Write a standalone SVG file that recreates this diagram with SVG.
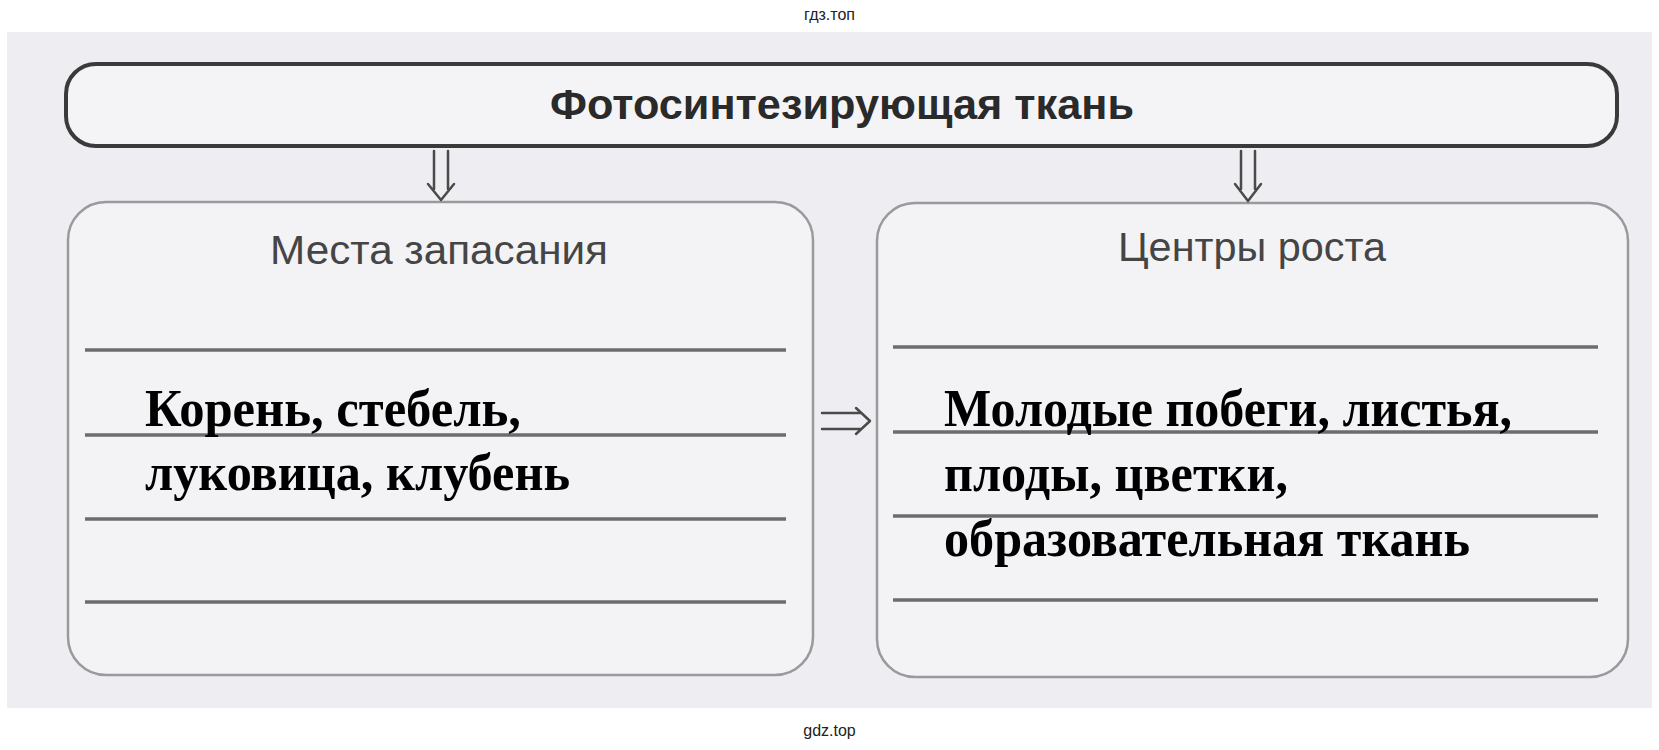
<svg xmlns="http://www.w3.org/2000/svg" width="1659" height="750" viewBox="0 0 1659 750">
<style>
.wm{font-family:"Liberation Sans",Arial,sans-serif;font-size:16px;fill:#222;text-anchor:middle}
.title{font-family:"Liberation Sans",Arial,sans-serif;font-weight:bold;font-size:42px;fill:#2a2a2a}
.head{font-family:"Liberation Sans",Arial,sans-serif;font-size:41px;fill:#454545}
.ans{font-family:"Liberation Serif","Times New Roman",serif;font-weight:bold;font-size:52px;fill:#000}
.box{fill:#f3f3f6;stroke:#9a9a9c;stroke-width:2.5}
.rule{stroke:#6c6c6e;stroke-width:3.5;fill:none}
.arr{stroke:#4a4a4a;stroke-width:2.5;fill:none;stroke-linecap:round;stroke-linejoin:round}
</style>
<rect x="0" y="0" width="1659" height="750" fill="#ffffff"/>
<rect x="7" y="32" width="1645" height="676" fill="#eeeef2"/>
<text class="wm" x="829.5" y="20">гдз.топ</text>
<text class="wm" x="829.5" y="736">gdz.top</text>

<g id="node-top">
<rect x="66" y="64" width="1551" height="82" rx="30" fill="#f4f4f7" stroke="#3a3a3a" stroke-width="4"/>
<text class="title" x="550" y="119" textLength="584" lengthAdjust="spacingAndGlyphs">Фотосинтезирующая ткань</text>
</g>

<g id="node-left">
<rect class="box" x="68" y="202" width="745" height="473" rx="38"/>
<text class="head" x="270" y="264" textLength="338" lengthAdjust="spacingAndGlyphs">Места запасания</text>
<line class="rule" x1="85" y1="350" x2="786" y2="350"/>
<line class="rule" x1="85" y1="435" x2="786" y2="435"/>
<line class="rule" x1="85" y1="519" x2="786" y2="519"/>
<line class="rule" x1="85" y1="602" x2="786" y2="602"/>
<text class="ans" x="145" y="426" textLength="376" lengthAdjust="spacingAndGlyphs">Корень, стебель,</text>
<text class="ans" x="145" y="490" textLength="425" lengthAdjust="spacingAndGlyphs">луковица, клубень</text>
</g>

<g id="node-right">
<rect class="box" x="877" y="203" width="751" height="474" rx="38"/>
<text class="head" x="1118" y="261" textLength="268" lengthAdjust="spacingAndGlyphs">Центры роста</text>
<line class="rule" x1="893" y1="347" x2="1598" y2="347"/>
<line class="rule" x1="893" y1="432" x2="1598" y2="432"/>
<line class="rule" x1="893" y1="516" x2="1598" y2="516"/>
<line class="rule" x1="893" y1="600" x2="1598" y2="600"/>
<text class="ans" x="944" y="426" textLength="568" lengthAdjust="spacingAndGlyphs">Молодые побеги, листья,</text>
<text class="ans" x="944" y="491" textLength="344" lengthAdjust="spacingAndGlyphs">плоды, цветки,</text>
<text class="ans" x="944" y="556" textLength="526" lengthAdjust="spacingAndGlyphs">образовательная ткань</text>
</g>

<g id="connectors">
<path class="arr" d="M434 151 V189 M448 151 V189 M428 184 L441 200 L454 184"/>
<path class="arr" d="M1241 151 V189 M1255 151 V189 M1235 184 L1248 201 L1261 184"/>
<path class="arr" d="M822 413 H861 M822 429 H861 M856 408 L870 421 L856 434"/>
</g>
</svg>
